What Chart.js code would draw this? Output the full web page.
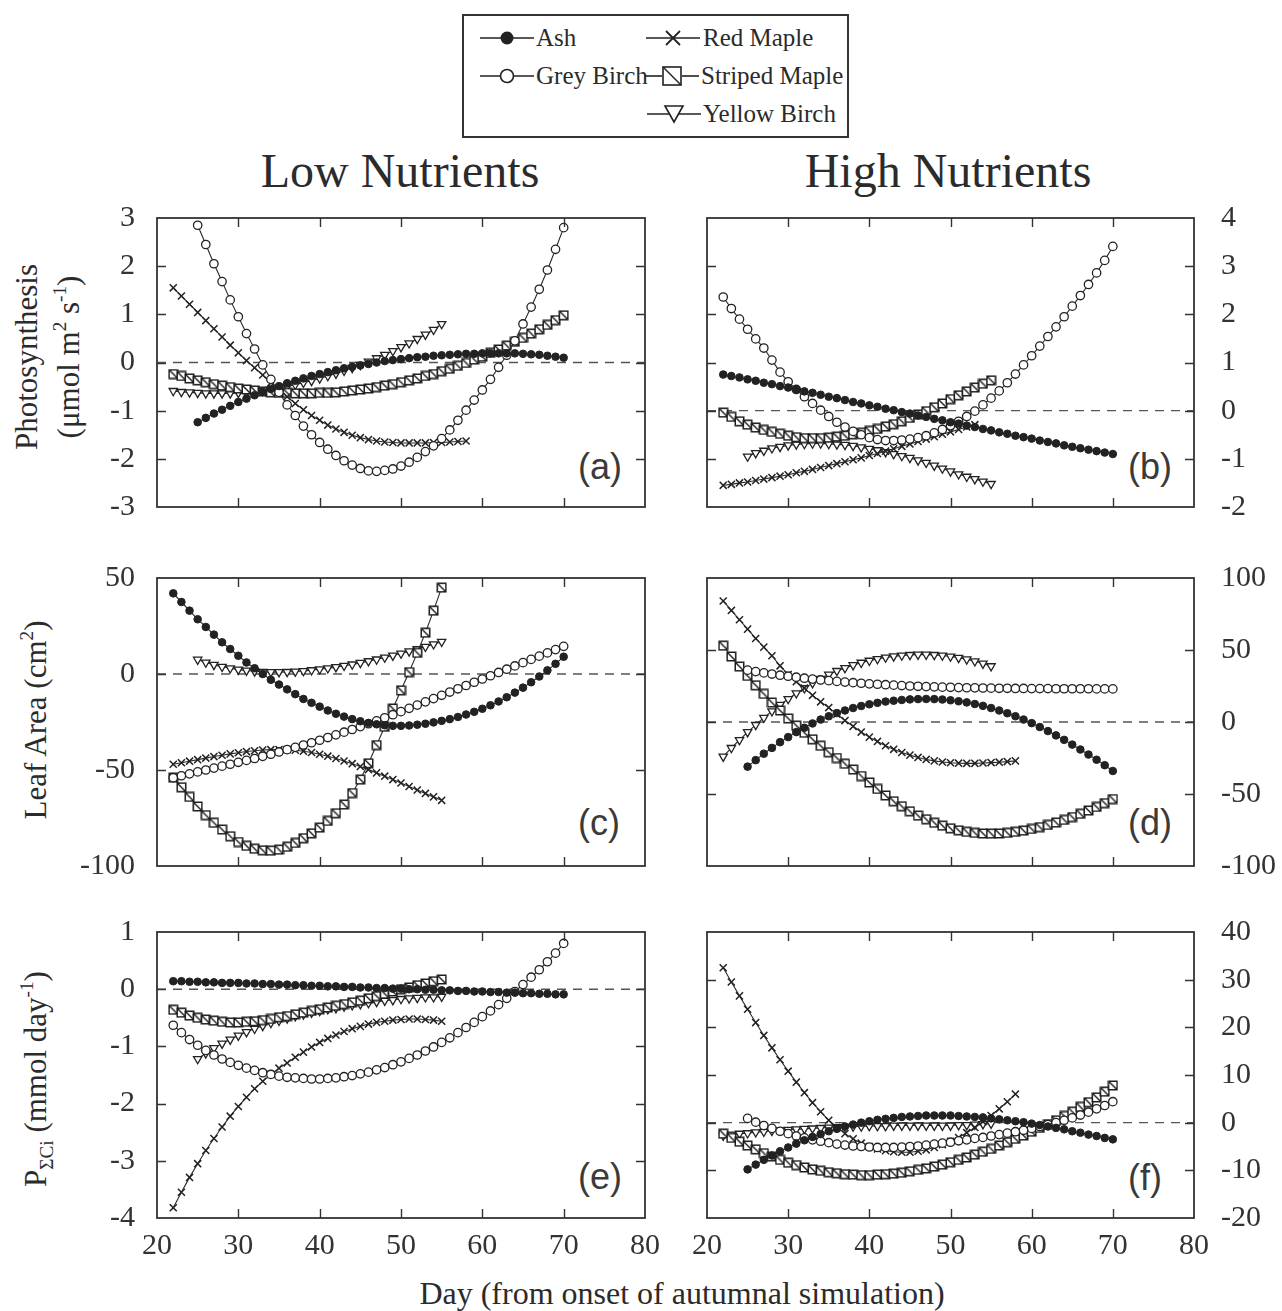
<!DOCTYPE html>
<html><head><meta charset="utf-8">
<script src="https://cdn.jsdelivr.net/npm/chart.js@4.4.1/dist/chart.umd.min.js"></script>
<style>
html,body{margin:0;padding:0;background:#fff;}
body{width:1282px;height:1311px;position:relative;overflow:hidden;font-family:"Liberation Serif","Times New Roman",serif;color:#2b2b2b;}
.t{position:absolute;white-space:nowrap;}
canvas{position:absolute;}
sup,sub{font-size:0.62em;line-height:0;position:relative;vertical-align:baseline;}
sup{top:-0.7em;} sub{top:0.35em;}
.lbl{position:absolute;font-family:"Liberation Sans",Arial,sans-serif;font-size:36px;line-height:36px;color:#3a3a3a;transform:translateY(-50%);}
#legend{position:absolute;left:462px;top:14px;width:383px;height:120px;border:2px solid #333;}
.li{position:absolute;font-size:25px;line-height:26px;}
.rot{position:absolute;white-space:nowrap;text-align:center;transform:translate(-50%,-50%) rotate(-90deg);font-size:31px;}
</style></head><body>

<div id="legend"></div>
<svg class="t" style="left:480px;top:26px" width="54" height="24"><line x1="0" y1="12" x2="54" y2="12" stroke="#222" stroke-width="1.6"/><circle cx="27" cy="12" r="6.5" fill="#222"/></svg>
<div class="li" style="left:536px;top:25px">Ash</div>
<svg class="t" style="left:646px;top:26px" width="54" height="24"><line x1="0" y1="12" x2="54" y2="12" stroke="#222" stroke-width="1.6"/><line x1="20" y1="5" x2="34" y2="19" stroke="#222" stroke-width="1.8"/><line x1="34" y1="5" x2="20" y2="19" stroke="#222" stroke-width="1.8"/></svg>
<div class="li" style="left:703px;top:25px">Red Maple</div>
<svg class="t" style="left:480px;top:64px" width="54" height="24"><line x1="0" y1="12" x2="54" y2="12" stroke="#222" stroke-width="1.6"/><circle cx="27" cy="12" r="6.5" fill="#fff" stroke="#222" stroke-width="1.6"/></svg>
<div class="li" style="left:536px;top:63px">Grey Birch</div>
<svg class="t" style="left:645px;top:64px" width="54" height="24"><line x1="0" y1="12" x2="17" y2="12" stroke="#222" stroke-width="1.6"/><line x1="37" y1="12" x2="54" y2="12" stroke="#222" stroke-width="1.6"/><rect x="18" y="3" width="18" height="18" fill="#fff" stroke="#222" stroke-width="1.6"/><line x1="18" y1="3" x2="36" y2="21" stroke="#222" stroke-width="1.4"/></svg>
<div class="li" style="left:701px;top:63px">Striped Maple</div>
<svg class="t" style="left:647px;top:102px" width="54" height="24"><line x1="0" y1="12" x2="54" y2="12" stroke="#222" stroke-width="1.6"/><polygon points="18,4 36,4 27,20" fill="#fff" stroke="#222" stroke-width="1.6"/></svg>
<div class="li" style="left:703px;top:101px">Yellow Birch</div>

<div class="t" style="left:400px;top:147px;font-size:48px;line-height:48px;transform:translateX(-50%)">Low Nutrients</div>
<div class="t" style="left:948px;top:147px;font-size:48px;line-height:48px;transform:translateX(-50%)">High Nutrients</div>

<div class="rot" style="left:48px;top:357px;line-height:42px">Photosynthesis<br>(μmol m<sup>2</sup> s<sup>-1</sup>)</div>
<div class="rot" style="left:36px;top:720px;line-height:36px">Leaf Area (cm<sup>2</sup>)</div>
<div class="rot" style="left:36px;top:1079px;line-height:36px">P<sub>ΣCi</sub> (mmol day<sup>-1</sup>)</div>
<div class="t" style="left:682px;top:1276px;font-size:32px;line-height:34px;transform:translateX(-50%)">Day (from onset of autumnal simulation)</div>

<div class="lbl" style="left:578px;top:467px">(a)</div>
<div class="lbl" style="left:1128px;top:467px">(b)</div>
<div class="lbl" style="left:578px;top:823px">(c)</div>
<div class="lbl" style="left:1128px;top:823px">(d)</div>
<div class="lbl" style="left:578px;top:1177px">(e)</div>
<div class="lbl" style="left:1128px;top:1178px">(f)</div>

<script>
// ---------- tick labels ----------
const xTicks = [20, 30, 40, 50, 60, 70, 80];
const aYTicks = [-3, -2, -1, 0, 1, 2, 3];
const bYTicks = [-2, -1, 0, 1, 2, 3, 4];
const cYTicks = [-100, -50, 0, 50];
const dYTicks = [-100, -50, 0, 50, 100];
const eYTicks = [-4, -3, -2, -1, 0, 1];
const fYTicks = [-20, -10, 0, 10, 20, 30, 40];

// ---------- (a) Photosynthesis, low nutrients (first day, daily values) ----------
const aAshStart = 25;
const aAsh = [-1.24,-1.15,-1.06,-0.98,-0.90,-0.82,-0.75,-0.68,-0.61,-0.55,-0.49,-0.43,-0.38,-0.33,-0.28,-0.24,-0.20,-0.16,-0.12,-0.09,-0.06,-0.03,0.00,0.03,0.05,0.07,0.09,0.11,0.12,0.14,0.15,0.16,0.17,0.18,0.18,0.19,0.19,0.19,0.19,0.19,0.18,0.17,0.16,0.14,0.12,0.10];
const aGreyStart = 25;
const aGrey = [2.85,2.45,2.05,1.68,1.30,0.95,0.60,0.28,-0.05,-0.35,-0.62,-0.88,-1.10,-1.32,-1.50,-1.66,-1.80,-1.93,-2.04,-2.13,-2.20,-2.25,-2.26,-2.24,-2.21,-2.15,-2.07,-1.97,-1.85,-1.73,-1.58,-1.40,-1.20,-0.99,-0.78,-0.57,-0.35,-0.10,0.15,0.45,0.80,1.15,1.52,1.92,2.35,2.80];
const aRedStart = 22;
const aRed = [1.55,1.38,1.21,1.04,0.87,0.70,0.53,0.36,0.20,0.04,-0.11,-0.26,-0.42,-0.57,-0.71,-0.85,-0.98,-1.10,-1.20,-1.30,-1.38,-1.45,-1.51,-1.56,-1.60,-1.63,-1.65,-1.66,-1.67,-1.67,-1.67,-1.67,-1.66,-1.66,-1.65,-1.64,-1.63];
const aStripedStart = 22;
const aStriped = [-0.24,-0.28,-0.33,-0.37,-0.41,-0.45,-0.48,-0.51,-0.54,-0.56,-0.58,-0.60,-0.62,-0.63,-0.63,-0.64,-0.64,-0.64,-0.63,-0.63,-0.62,-0.60,-0.58,-0.56,-0.54,-0.51,-0.48,-0.45,-0.41,-0.37,-0.33,-0.28,-0.24,-0.18,-0.13,-0.07,-0.01,0.06,0.12,0.20,0.27,0.35,0.43,0.51,0.60,0.69,0.78,0.88,0.98];
const aYellowStart = 22;
const aYellow = [-0.59,-0.61,-0.62,-0.63,-0.64,-0.64,-0.64,-0.64,-0.63,-0.62,-0.61,-0.59,-0.56,-0.53,-0.50,-0.46,-0.42,-0.38,-0.33,-0.28,-0.23,-0.17,-0.11,-0.05,0.02,0.09,0.16,0.24,0.32,0.40,0.49,0.58,0.68,0.80];

// ---------- (b) Photosynthesis, high nutrients ----------
const bAshStart = 22;
const bAsh = [0.75,0.72,0.69,0.65,0.62,0.58,0.55,0.51,0.48,0.44,0.40,0.37,0.33,0.29,0.26,0.22,0.18,0.15,0.11,0.08,0.04,0.01,-0.03,-0.06,-0.10,-0.13,-0.17,-0.20,-0.24,-0.27,-0.31,-0.34,-0.38,-0.41,-0.45,-0.48,-0.52,-0.55,-0.58,-0.62,-0.65,-0.68,-0.72,-0.75,-0.78,-0.81,-0.84,-0.87,-0.90];
const bGreyStart = 22;
const bGrey = [2.36,2.12,1.90,1.69,1.49,1.30,1.05,0.80,0.60,0.44,0.29,0.15,0.01,-0.12,-0.24,-0.34,-0.43,-0.50,-0.56,-0.60,-0.62,-0.62,-0.61,-0.59,-0.56,-0.52,-0.46,-0.39,-0.31,-0.22,-0.12,-0.01,0.12,0.26,0.41,0.58,0.76,0.95,1.14,1.34,1.54,1.74,1.95,2.17,2.39,2.62,2.86,3.12,3.41];
const bRedStart = 22;
const bRed = [-1.55,-1.53,-1.50,-1.48,-1.45,-1.42,-1.39,-1.36,-1.33,-1.29,-1.26,-1.22,-1.18,-1.14,-1.10,-1.06,-1.02,-0.98,-0.93,-0.89,-0.84,-0.79,-0.74,-0.69,-0.64,-0.59,-0.54,-0.49,-0.44,-0.39,-0.34,-0.29];
const bStripedStart = 22;
const bStriped = [-0.04,-0.13,-0.22,-0.29,-0.35,-0.40,-0.44,-0.48,-0.52,-0.55,-0.57,-0.57,-0.57,-0.56,-0.54,-0.52,-0.49,-0.46,-0.42,-0.38,-0.33,-0.28,-0.22,-0.15,-0.08,-0.01,0.07,0.15,0.24,0.32,0.40,0.48,0.56,0.63];
const bYellowStart = 25;
const bYellow = [-0.95,-0.88,-0.83,-0.78,-0.75,-0.72,-0.70,-0.69,-0.68,-0.68,-0.69,-0.70,-0.71,-0.73,-0.76,-0.79,-0.82,-0.86,-0.90,-0.94,-0.98,-1.03,-1.08,-1.14,-1.20,-1.26,-1.32,-1.37,-1.42,-1.47,-1.52];

// ---------- (c) Leaf area, low nutrients ----------
const cAshStart = 22;
const cAsh = [42,37.5,33,28.5,24.5,20.5,16.5,13,9.5,6,3,0,-3,-5.5,-8,-10.5,-13,-15,-17,-19,-20.7,-22.2,-23.5,-24.6,-25.5,-26.2,-26.7,-27,-27,-26.8,-26.4,-25.9,-25.2,-24.4,-23.5,-22.4,-21.1,-19.7,-18.1,-16.3,-14.3,-12.1,-9.7,-7.1,-4.3,-1.3,1.9,5.3,9];
const cGreyStart = 22;
const cGrey = [-54,-53,-52,-51,-50,-49,-48,-47,-46,-45,-44,-42.9,-41.8,-40.6,-39.4,-38.2,-37,-35.8,-34.5,-33.1,-31.7,-30.3,-28.9,-27.4,-25.9,-24.4,-22.8,-21.2,-19.6,-17.9,-16.2,-14.5,-12.8,-11.1,-9.4,-7.7,-6,-4.3,-2.6,-0.9,0.8,2.5,4.2,5.9,7.6,9.3,11,12.7,14.4];
const cRedStart = 22;
const cRed = [-47,-46.2,-45.4,-44.6,-43.8,-43,-42.3,-41.6,-41,-40.4,-40,-39.6,-39.4,-39.3,-39.4,-39.7,-40.2,-40.9,-41.8,-42.8,-44,-45.3,-46.7,-48.2,-49.8,-51.5,-53.2,-55,-56.8,-58.6,-60.4,-62.2,-64,-65.8];
const cStripedStart = 22;
const cStriped = [-54,-59,-64,-69,-73.5,-77.5,-81,-84.5,-87.5,-89.5,-91,-91.8,-92,-91.5,-90,-88,-85.5,-83,-80,-76.5,-72.5,-68,-62,-55,-46.5,-37,-27.5,-18,-8.5,1,11,21.5,33,45];
const cYellowStart = 25;
const cYellow = [7.5,6,4.8,3.8,3,2.3,1.8,1.4,1.1,1,1,1.1,1.3,1.6,2,2.5,3,3.6,4.3,5,5.8,6.7,7.6,8.6,9.6,10.7,11.8,13,14.2,15.5,16.8];

// ---------- (d) Leaf area, high nutrients ----------
const dAshStart = 25;
const dAsh = [-31,-26.5,-22,-18,-14,-10.5,-7,-4,-1,1.7,4,6.2,8,9.7,11.1,12.3,13.3,14.2,14.8,15.3,15.7,15.9,16,15.9,15.6,15.1,14.4,13.6,12.5,11.2,9.7,8,6.1,4,1.7,-0.8,-3.5,-6.3,-9.3,-12.4,-15.7,-19.1,-22.6,-26.2,-30,-34];
const dGreyStart = 25;
const dGrey = [36,35,34.1,33.3,32.5,31.8,31.1,30.4,29.8,29.2,28.7,28.2,27.7,27.3,26.9,26.5,26.2,25.9,25.6,25.3,25,24.8,24.6,24.4,24.2,24.1,23.9,23.8,23.7,23.6,23.5,23.4,23.4,23.3,23.3,23.2,23.2,23.2,23.1,23.1,23.1,23.1,23.1,23,23,23];
const dRedStart = 22;
const dRed = [84,77.5,71,64.5,58,52,46,39,33,28,23.5,18.5,14,10,5.5,1,-3,-7,-10.5,-13.5,-16.5,-19,-21.2,-23,-24.6,-26,-27,-27.8,-28.3,-28.6,-28.7,-28.7,-28.5,-28.2,-27.9,-27.5,-27];
const dStripedStart = 22;
const dStriped = [53,45.5,38.5,32,25.5,19.5,13.5,8,2.5,-2.5,-7.5,-12,-16.5,-21,-25,-29,-33,-37.5,-42,-46.5,-51,-55,-58.5,-62,-65,-67.5,-70,-72,-73.8,-75.2,-76.3,-77,-77.4,-77.5,-77.4,-77,-76.3,-75.4,-74.3,-73,-71.5,-69.8,-68,-66,-63.8,-61.5,-59,-56.3,-53.5];
const dYellowStart = 22;
const dYellow = [-24,-18,-12.5,-7,-2,3,7.5,12,16,20,23.5,27,30,33,35.5,37.5,39.5,41.2,42.6,43.8,44.8,45.6,46.2,46.6,46.8,46.8,46.6,46.2,45.5,44.6,43.5,42.2,40.6,38.8];

// ---------- (e) P_SigmaCi, low nutrients ----------
const eAshStart = 22;
const eAsh = [0.14,0.14,0.13,0.13,0.12,0.12,0.11,0.11,0.11,0.10,0.10,0.09,0.09,0.08,0.08,0.07,0.07,0.06,0.06,0.05,0.05,0.04,0.04,0.03,0.03,0.02,0.02,0.01,0.01,0.00,0.00,-0.01,-0.01,-0.02,-0.02,-0.03,-0.03,-0.04,-0.04,-0.05,-0.05,-0.06,-0.06,-0.07,-0.07,-0.08,-0.08,-0.09,-0.09];
const eGreyStart = 22;
const eGrey = [-0.63,-0.76,-0.88,-0.98,-1.07,-1.15,-1.22,-1.28,-1.33,-1.38,-1.42,-1.46,-1.49,-1.52,-1.54,-1.55,-1.56,-1.57,-1.57,-1.56,-1.55,-1.53,-1.51,-1.48,-1.45,-1.41,-1.37,-1.32,-1.27,-1.21,-1.15,-1.08,-1.01,-0.93,-0.85,-0.76,-0.67,-0.58,-0.48,-0.38,-0.27,-0.16,-0.04,0.08,0.21,0.34,0.48,0.63,0.80];
const eRedStart = 22;
const eRed = [-3.82,-3.55,-3.29,-3.05,-2.82,-2.61,-2.41,-2.22,-2.05,-1.89,-1.74,-1.61,-1.49,-1.38,-1.29,-1.19,-1.10,-1.01,-0.93,-0.86,-0.80,-0.74,-0.69,-0.65,-0.61,-0.58,-0.56,-0.54,-0.53,-0.52,-0.52,-0.53,-0.54,-0.56];
const eStripedStart = 22;
const eStriped = [-0.36,-0.41,-0.46,-0.50,-0.53,-0.55,-0.57,-0.58,-0.58,-0.57,-0.56,-0.54,-0.52,-0.49,-0.47,-0.44,-0.41,-0.38,-0.35,-0.32,-0.29,-0.26,-0.23,-0.20,-0.16,-0.12,-0.08,-0.04,0.00,0.03,0.07,0.10,0.14,0.17];
const eYellowStart = 25;
const eYellow = [-1.22,-1.12,-1.03,-0.95,-0.88,-0.81,-0.75,-0.69,-0.64,-0.59,-0.55,-0.51,-0.47,-0.44,-0.41,-0.38,-0.35,-0.33,-0.30,-0.28,-0.26,-0.24,-0.22,-0.20,-0.19,-0.17,-0.16,-0.15,-0.14,-0.14,-0.13];

// ---------- (f) P_SigmaCi, high nutrients ----------
const fAshStart = 25;
const fAsh = [-9.8,-8.8,-7.8,-6.9,-6,-5.2,-4.4,-3.7,-3,-2.4,-1.8,-1.3,-0.8,-0.4,0,0.3,0.6,0.8,1,1.2,1.3,1.4,1.5,1.5,1.5,1.5,1.4,1.3,1.2,1.1,0.9,0.7,0.5,0.3,0.1,-0.2,-0.5,-0.8,-1.1,-1.4,-1.8,-2.1,-2.5,-2.8,-3.2,-3.5];
const fGreyStart = 25;
const fGrey = [0.9,0.1,-0.6,-1.2,-1.8,-2.3,-2.8,-3.2,-3.6,-3.9,-4.2,-4.5,-4.7,-4.9,-5,-5.1,-5.2,-5.2,-5.2,-5.1,-5,-4.9,-4.7,-4.5,-4.3,-4.1,-3.8,-3.6,-3.3,-3.1,-2.8,-2.5,-2.2,-1.9,-1.6,-1.2,-0.8,-0.4,0,0.5,1,1.6,2.2,2.9,3.6,4.4];
const fRedStart = 22;
const fRed = [32.5,29.5,26.6,23.8,21,18.3,15.7,13.2,10.8,8.5,6.3,4.2,2.3,0.5,-1,-2.3,-3.4,-4.3,-5,-5.5,-5.9,-6.1,-6.2,-6.2,-6,-5.7,-5.2,-4.6,-3.9,-3.1,-2.1,-1,0.2,1.5,2.9,4.4,6];
const fStripedStart = 22;
const fStriped = [-2.3,-3.2,-4.0,-4.8,-5.6,-6.4,-7.1,-7.8,-8.4,-8.9,-9.4,-9.8,-10.1,-10.4,-10.6,-10.8,-10.9,-11,-11,-10.9,-10.8,-10.7,-10.5,-10.2,-9.9,-9.6,-9.2,-8.8,-8.3,-7.8,-7.3,-6.7,-6.1,-5.5,-4.8,-4.1,-3.4,-2.7,-1.9,-1.1,-0.3,0.5,1.4,2.3,3.3,4.3,5.3,6.5,7.8];
const fYellowStart = 22;
const fYellow = [-2.7,-2.5,-2.3,-2.2,-2.0,-1.9,-1.7,-1.6,-1.5,-1.4,-1.3,-1.2,-1.1,-1.0,-0.9,-0.9,-0.8,-0.8,-0.7,-0.7,-0.7,-0.6,-0.6,-0.6,-0.6,-0.6,-0.6,-0.6,-0.6,-0.5,-0.5,-0.4,-0.3,-0.2];

// ---------- styling ----------
const INK = '#2a2a2a';
const FONT = '"Liberation Serif", "Times New Roman", serif';

function squareMarker() {
  const c = document.createElement('canvas');
  c.width = 11; c.height = 11;
  const g = c.getContext('2d');
  g.fillStyle = '#fff'; g.fillRect(1, 1, 9, 9);
  g.strokeStyle = '#1e1e1e'; g.lineWidth = 1.5;
  g.strokeRect(1.25, 1.25, 8.5, 8.5);
  g.beginPath(); g.moveTo(1.5, 1.5); g.lineTo(9.5, 9.5); g.stroke();
  return c;
}
const SQ = squareMarker();

const STY = {
  ash:     {ps: 'circle',   r: 3.8, bg: '#222', bw: 1},
  grey:    {ps: 'circle',   r: 4.2, bg: '#fff', bw: 1.3},
  red:     {ps: 'crossRot', r: 5,   bg: '#222', bw: 1.5},
  striped: {ps: SQ,         r: 5,   bg: '#fff', bw: 1.2},
  yellow:  {ps: 'triangle', r: 4.8, bg: '#fff', bw: 1.3, rot: 180}
};

function ds(kind, start, vals) {
  const s = STY[kind];
  return {
    label: kind,
    data: vals.map((v, i) => ({x: start + i, y: v})),
    borderColor: INK, borderWidth: 1.1,
    pointStyle: s.ps, pointRadius: s.r, pointRotation: s.rot || 0,
    pointBackgroundColor: s.bg, pointBorderColor: '#222', pointBorderWidth: s.bw,
    pointHoverRadius: s.r, tension: 0, fill: false
  };
}
function zeroLine() {
  return {label: 'zero', data: [{x: 20, y: 0}, {x: 80, y: 0}], borderColor: '#555',
    borderWidth: 1.4, borderDash: [9, 7], pointRadius: 0, pointHoverRadius: 0, fill: false};
}

const framePlugin = {
  id: 'frame',
  afterDatasetsDraw(chart) {
    const {ctx, chartArea: a, scales: {x, y}} = chart;
    ctx.save();
    ctx.strokeStyle = '#333';
    ctx.lineWidth = 1.8;
    ctx.strokeRect(a.left, a.top, a.right - a.left, a.bottom - a.top);
    ctx.lineWidth = 1.4;
    ctx.beginPath();
    x.ticks.forEach(t => {
      if (t.value <= x.min || t.value >= x.max) return;
      const px = Math.round(x.getPixelForValue(t.value)) + 0.5;
      ctx.moveTo(px, a.top); ctx.lineTo(px, a.top + 9);
      ctx.moveTo(px, a.bottom); ctx.lineTo(px, a.bottom - 9);
    });
    y.ticks.forEach(t => {
      if (t.value <= y.min || t.value >= y.max) return;
      const py = Math.round(y.getPixelForValue(t.value)) + 0.5;
      ctx.moveTo(a.left, py); ctx.lineTo(a.left + 9, py);
      ctx.moveTo(a.right, py); ctx.lineTo(a.right - 9, py);
    });
    ctx.stroke();
    ctx.restore();
  }
};

const panels = [
  {side: 'left',  L: 157, T: 218, W: 488, H: 289, yt: aYTicks, showX: false,
   sets: [ds('ash', aAshStart, aAsh), ds('grey', aGreyStart, aGrey), ds('red', aRedStart, aRed), ds('striped', aStripedStart, aStriped), ds('yellow', aYellowStart, aYellow)]},
  {side: 'right', L: 707, T: 218, W: 487, H: 289, yt: bYTicks, showX: false,
   sets: [ds('ash', bAshStart, bAsh), ds('grey', bGreyStart, bGrey), ds('red', bRedStart, bRed), ds('striped', bStripedStart, bStriped), ds('yellow', bYellowStart, bYellow)]},
  {side: 'left',  L: 157, T: 578, W: 488, H: 288, yt: cYTicks, showX: false,
   sets: [ds('ash', cAshStart, cAsh), ds('grey', cGreyStart, cGrey), ds('red', cRedStart, cRed), ds('striped', cStripedStart, cStriped), ds('yellow', cYellowStart, cYellow)]},
  {side: 'right', L: 707, T: 578, W: 487, H: 288, yt: dYTicks, showX: false,
   sets: [ds('ash', dAshStart, dAsh), ds('grey', dGreyStart, dGrey), ds('red', dRedStart, dRed), ds('striped', dStripedStart, dStriped), ds('yellow', dYellowStart, dYellow)]},
  {side: 'left',  L: 157, T: 932, W: 488, H: 286, yt: eYTicks, showX: true,
   sets: [ds('ash', eAshStart, eAsh), ds('grey', eGreyStart, eGrey), ds('red', eRedStart, eRed), ds('striped', eStripedStart, eStriped), ds('yellow', eYellowStart, eYellow)]},
  {side: 'right', L: 707, T: 932, W: 487, H: 286, yt: fYTicks, showX: true,
   sets: [ds('ash', fAshStart, fAsh), ds('grey', fGreyStart, fGrey), ds('red', fRedStart, fRed), ds('striped', fStripedStart, fStriped), ds('yellow', fYellowStart, fYellow)]}
];

panels.forEach(p => {
  const axisW = p.side === 'left' ? 115 : 88;
  const outer = 25;
  const padT = 20;
  const padB = p.showX ? 60 : 20;
  const left = p.side === 'left' ? p.L - axisW : p.L - outer;
  const cw = axisW + outer + p.W;
  let ch = padT + p.H + padB;
  let top = p.T - padT;
  const cv = document.createElement('canvas');
  cv.width = cw; cv.height = ch;
  cv.style.left = left + 'px'; cv.style.top = top + 'px';
  cv.style.width = cw + 'px'; cv.style.height = ch + 'px';
  document.body.appendChild(cv);
  const yMin = p.yt[0], yMax = p.yt[p.yt.length - 1];
  const chart = new Chart(cv.getContext('2d'), {
    type: 'line',
    data: {datasets: [...p.sets, zeroLine()]},
    options: {
      responsive: false, animation: false, devicePixelRatio: 1,
      events: [],
      layout: {autoPadding: false, padding: {
        left: p.side === 'left' ? 0 : outer,
        right: p.side === 'left' ? outer : 0,
        top: padT, bottom: 0}},
      plugins: {legend: {display: false}, tooltip: {enabled: false}},
      scales: {
        x: {type: 'linear', min: 20, max: 80,
          afterBuildTicks: s => { s.ticks = xTicks.map(v => ({value: v})); },
          ticks: {display: p.showX, font: {family: FONT, size: 30}, color: '#333', padding: 10, maxRotation: 0, autoSkip: false},
          grid: {display: false, drawTicks: false}, border: {display: false},
          afterFit: s => { s.height = padB; s.paddingLeft = 0; s.paddingRight = 0; s.paddingTop = 0; s.paddingBottom = 0; }},
        y: {type: 'linear', position: p.side, min: yMin, max: yMax,
          afterBuildTicks: s => { s.ticks = p.yt.map(v => ({value: v})); },
          ticks: {font: {family: FONT, size: 30}, color: '#333', padding: p.side === 'left' ? 22 : 27, autoSkip: false},
          grid: {display: false, drawTicks: false}, border: {display: false},
          afterFit: s => { s.width = axisW; s.paddingTop = 0; s.paddingBottom = 0; s.paddingLeft = 0; s.paddingRight = 0; }}
      }
    },
    plugins: [framePlugin]
  });
  // safety: if the library still insets the plot, grow/shift the canvas so the plot box lands where intended
  const a = chart.chartArea;
  const dTop = a.top - padT;
  const dBot = (ch - padB) - a.bottom;
  if (Math.abs(dTop) > 0.5 || Math.abs(dBot) > 0.5) {
    top -= dTop;
    ch += dTop + dBot;
    cv.style.top = top + 'px';
    cv.style.height = ch + 'px';
    chart.resize(cw, ch);
  }
});
</script>
</body></html>
